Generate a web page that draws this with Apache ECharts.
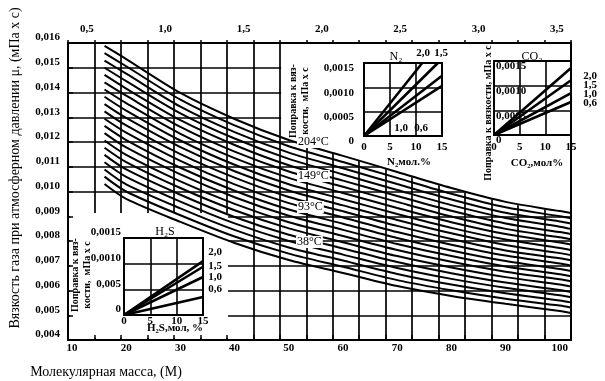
<!DOCTYPE html>
<html><head><meta charset="utf-8">
<script src="https://cdn.jsdelivr.net/npm/echarts@6/dist/echarts.min.js"></script>
<style>html,body{margin:0;padding:0;background:#fff}#c{width:605px;height:381px}</style>
</head><body><div id="c"></div>
<script>
// ---------- data ----------
const molarMass = [16, 20, 30, 40, 50, 60, 70, 80, 90, 100, 102];
// viscosity at 1 atm, mPa*s (top line = 204°C)
const visc01 = [0.01588,0.01535,0.01398,0.01293,0.01208,0.01144,0.01079,0.01014,0.00958,0.00921,0.00913];
const visc02 = [0.01559,0.01506,0.01371,0.01267,0.01183,0.01119,0.01055,0.00991,0.00936,0.00900,0.00892];
const visc03 = [0.01529,0.01476,0.01343,0.01240,0.01157,0.01094,0.01030,0.00968,0.00914,0.00879,0.00871];
const visc04 = [0.01500,0.01446,0.01316,0.01214,0.01132,0.01069,0.01006,0.00945,0.00893,0.00858,0.00849];
const visc05 = [0.01471,0.01416,0.01288,0.01188,0.01106,0.01044,0.00982,0.00922,0.00871,0.00836,0.00828];
const visc06 = [0.01441,0.01387,0.01261,0.01161,0.01081,0.01019,0.00958,0.00899,0.00849,0.00815,0.00807];
const visc07 = [0.01412,0.01357,0.01233,0.01135,0.01055,0.00994,0.00933,0.00876,0.00828,0.00794,0.00786];
const visc08 = [0.01383,0.01327,0.01206,0.01108,0.01029,0.00969,0.00909,0.00853,0.00806,0.00772,0.00764];
const visc09 = [0.01353,0.01297,0.01179,0.01082,0.01004,0.00944,0.00885,0.00831,0.00784,0.00751,0.00743];
const visc10 = [0.01324,0.01267,0.01151,0.01056,0.00978,0.00920,0.00861,0.00808,0.00762,0.00730,0.00722];
const visc11 = [0.01294,0.01238,0.01124,0.01029,0.00953,0.00895,0.00836,0.00785,0.00741,0.00709,0.00701];
const visc12 = [0.01265,0.01208,0.01096,0.01003,0.00927,0.00870,0.00812,0.00762,0.00719,0.00687,0.00679];
const visc13 = [0.01236,0.01178,0.01069,0.00977,0.00902,0.00845,0.00788,0.00739,0.00697,0.00666,0.00658];
const visc14 = [0.01206,0.01148,0.01041,0.00950,0.00876,0.00820,0.00764,0.00716,0.00676,0.00645,0.00637];
const visc15 = [0.01177,0.01119,0.01014,0.00924,0.00851,0.00795,0.00739,0.00693,0.00654,0.00624,0.00616];
const visc16 = [0.01148,0.01089,0.00987,0.00897,0.00825,0.00770,0.00715,0.00670,0.00632,0.00602,0.00594];
const visc17 = [0.01118,0.01059,0.00959,0.00871,0.00800,0.00745,0.00691,0.00647,0.00611,0.00581,0.00573];
const visc18 = [0.01089,0.01029,0.00932,0.00845,0.00774,0.00721,0.00667,0.00624,0.00589,0.00560,0.00552];
const visc19 = [0.01060,0.01000,0.00904,0.00818,0.00749,0.00696,0.00642,0.00601,0.00567,0.00539,0.00531];
const visc20 = [0.01030,0.00970,0.00877,0.00792,0.00723,0.00671,0.00618,0.00578,0.00546,0.00517,0.00509];
const viscLines = [visc01,visc02,visc03,visc04,visc05,visc06,visc07,visc08,visc09,visc10,
                   visc11,visc12,visc13,visc14,visc15,visc16,visc17,visc18,visc19,visc20];

const tempLabels = ['204°C', '149°C', '93°C', '38°C'];
const massTicks = [10, 20, 30, 40, 50, 60, 70, 80, 90, 100];
const gravityTicks = [0.5, 1.0, 1.5, 2.0, 2.5, 3.0, 3.5];

// inset corrections: end points of lines from origin, [mol %, correction mPa*s]
const insetGravity = ['2,0', '1,5', '1,0', '0,6'];
const n2End  = [[11.2, 0.0015], [14.2, 0.0015], [15, 0.00124], [15, 0.00103]];
const co2End = [[15, 0.00136], [15, 0.00111], [15, 0.00085], [15, 0.00067]];
const h2sEnd = [[15, 0.00105], [15, 0.00094], [15, 0.00074], [15, 0.00035]];
const insetYLabels = ['0', '0,0005', '0,0010', '0,0015'];
const h2sYLabels = ['0', '0,005', '0,0010', '0,0015'];

// ---------- layout ----------
const FONT = 'Liberation Serif';
const tickFont = {fontFamily: FONT, fontSize: 11, fontWeight: 'bold', color: '#000'};
const LAB_MIN = 9.26, LAB_MAX = 102.07;   // printed molar-mass scale
const GRID_MIN = 10, GRID_MAX = 105;      // ruled grid
const BLACK = '#000';

const chart = echarts.init(document.getElementById('c'), null, {renderer: 'canvas'});

function interp(xs, ys, x) {
  for (let i = 0; i < xs.length - 1; i++) {
    if (x >= xs[i] && x <= xs[i + 1]) {
      const t = (x - xs[i]) / (xs[i + 1] - xs[i]);
      return ys[i] + t * (ys[i + 1] - ys[i]);
    }
  }
  return ys[ys.length - 1];
}
// white mask above the top line (right part of chart)
const maskStart = LAB_MIN + (50 - GRID_MIN) / (GRID_MAX - GRID_MIN) * (LAB_MAX - LAB_MIN) + 0.25;
const maskData = [[maskStart, interp(molarMass, visc01, maskStart) - 0.00003]]
  .concat(molarMass.map((m, i) => [m, visc01[i] - 0.00003]).filter(p => p[0] > maskStart));

const series = [];
series.push({type: 'line', xAxisIndex: 0, yAxisIndex: 0, data: maskData, symbol: 'none', smooth: 0.3,
  lineStyle: {width: 0, opacity: 0}, areaStyle: {color: '#fff', opacity: 1, origin: 'end'}, z: 1, silent: true});
viscLines.forEach(arr => {
  series.push({type: 'line', xAxisIndex: 0, yAxisIndex: 0, symbol: 'none', smooth: 0.3, silent: true,
    data: molarMass.map((m, i) => [m, arr[i]]), lineStyle: {color: BLACK, width: 2}, z: 2});
});
function insetSeries(ends, xi, yi) {
  ends.forEach(e => series.push({type: 'line', xAxisIndex: xi, yAxisIndex: yi, symbol: 'none', silent: true,
    data: [[0, 0], e], lineStyle: {color: BLACK, width: 2.6}, z: 5}));
}
insetSeries(n2End, 5, 3);
insetSeries(co2End, 6, 4);
insetSeries(h2sEnd, 7, 5);

const insetGrid = (l, t, w, h) => ({left: l, top: t, width: w, height: h, show: true, backgroundColor: '#fff',
  borderColor: BLACK, borderWidth: 2, z: 3, outerBoundsMode: 'none', containLabel: false});
const insetX = (g, margin) => ({gridIndex: g, type: 'value', min: 0, max: 15, interval: 5, z: 4,
  axisLine: {show: false, onZero: false}, axisTick: {show: false},
  splitLine: {show: true, lineStyle: {color: BLACK, width: 1.6}},
  axisLabel: Object.assign({margin: margin}, tickFont)});
const insetY = (g, labels, extra) => ({gridIndex: g, type: 'value', min: 0, max: 0.0015, interval: 0.0005, z: 4,
  axisLine: {show: false, onZero: false}, axisTick: {show: false},
  splitLine: {show: true, lineStyle: {color: BLACK, width: 1.6}},
  axisLabel: Object.assign({formatter: (v, i) => labels[i]}, tickFont, extra)});

const txt = (text, x, y, opt) => Object.assign({type: 'text', x: x, y: y, z: 10, silent: true,
  style: Object.assign({text: text, fontFamily: FONT, fontSize: 11, fontWeight: 'bold', fill: BLACK,
    align: 'center', verticalAlign: 'middle'}, (opt && opt.style) || {})}, (opt && opt.el) || {});
const rotStyle = (fs) => ({el: {rotation: Math.PI / 2}, style: {fontSize: fs, fontWeight: 'bold', lineHeight: 12}});
const tempStyle = {style: {fontSize: 12, fontWeight: 'normal', align: 'left', backgroundColor: '#fff', padding: [0, 1]}};

const graphics = [
  {type: 'rect', shape: {x: 70, y: 213, width: 158, height: 125}, style: {fill: '#fff'}, z: 1, silent: true},
  txt('Вязкость газа при атмосферном давлении μ, (мПа х с)', 15, 168, {el: {rotation: Math.PI / 2}, style: {fontSize: 14, fontWeight: 'normal'}}),
  txt('Молекулярная масса, (М)', 106, 372, {style: {fontSize: 14, fontWeight: 'normal'}}),
  txt(tempLabels[0], 297, 142, tempStyle),
  txt(tempLabels[1], 297, 176, tempStyle),
  txt(tempLabels[2], 297, 207, tempStyle),
  txt(tempLabels[3], 296, 242, tempStyle),
  // N2 inset
  txt('N₂', 396, 57, {style: {fontWeight: 'normal', fontSize: 12}}),
  txt('N₂мол.%', 409, 162),
  txt('Поправка к вяз-\nкости,  мПа х с', 299, 101, rotStyle(10)),
  txt(insetGravity[0], 423, 53), txt(insetGravity[1], 441, 53),
  txt(insetGravity[2], 401, 128), txt(insetGravity[3], 421, 128),
  // CO2 inset
  txt('CO₂', 532, 57, {style: {fontWeight: 'normal', fontSize: 12}}),
  txt('CO₂,мол%', 537, 163),
  txt('Поправка к вязкости, мПа х с', 488, 113, rotStyle(10)),
  txt(insetGravity[0], 590, 76), txt(insetGravity[1], 590, 85),
  txt(insetGravity[2], 590, 94), txt(insetGravity[3], 590, 103),
  // H2S inset
  txt('H₂S', 165, 232, {style: {fontWeight: 'normal', fontSize: 12}}),
  txt('H₂S,мол, %', 175, 328),
  txt('Поправка к вяз-\nкости,  мПа х с', 81, 275, rotStyle(10)),
  txt(insetGravity[0], 215, 252), txt(insetGravity[1], 215, 266),
  txt(insetGravity[2], 215, 277), txt(insetGravity[3], 215, 289)
];

const option = {
  animation: false,
  backgroundColor: '#fff',
  grid: [
    {left: 68, top: 43, width: 503, height: 297, show: false, outerBoundsMode: 'none', containLabel: false},
    insetGrid(364, 63, 78, 73),
    insetGrid(494, 61, 77, 74),
    insetGrid(124, 238, 79, 77)
  ],
  xAxis: [
    {gridIndex: 0, type: 'value', position: 'bottom', min: LAB_MIN, max: LAB_MAX, z: 3,
      axisLine: {show: true, onZero: false, lineStyle: {color: BLACK, width: 2}}, axisTick: {show: false},
      splitLine: {show: false}, axisLabel: Object.assign({customValues: massTicks, margin: 3}, tickFont)},
    {gridIndex: 0, type: 'value', position: 'bottom', min: GRID_MIN, max: GRID_MAX, interval: 5, z: 0,
      axisLine: {show: false, onZero: false}, axisTick: {show: false}, axisLabel: {show: false},
      splitLine: {show: true, lineStyle: {color: BLACK, width: 1.7}}},
    {gridIndex: 0, type: 'value', position: 'bottom', min: GRID_MIN, max: GRID_MAX, interval: 5, z: 3,
      axisLine: {show: false, onZero: false}, axisTick: {show: true, inside: true, length: 5, lineStyle: {color: BLACK, width: 1.5}},
      axisLabel: {show: false}, splitLine: {show: false}},
    {gridIndex: 0, type: 'value', position: 'top', min: GRID_MIN, max: GRID_MAX, interval: 5, z: 3,
      axisLine: {show: true, onZero: false, lineStyle: {color: BLACK, width: 2}},
      axisTick: {show: true, inside: false, length: 3, lineStyle: {color: BLACK, width: 1.5}},
      axisLabel: {show: false}, splitLine: {show: false}},
    {gridIndex: 0, type: 'value', position: 'top', min: 0.38, max: 3.59, z: 3,
      axisLine: {show: false, onZero: false}, axisTick: {show: false}, splitLine: {show: false},
      axisLabel: Object.assign({customValues: gravityTicks, margin: 8, formatter: v => v.toFixed(1).replace('.', ',')}, tickFont)},
    insetX(1, 6),
    insetX(2, 7),
    insetX(3, 1)
  ],
  yAxis: [
    {gridIndex: 0, type: 'value', position: 'left', min: 0.004, max: 0.016, interval: 0.001, z: 0,
      axisLine: {show: false, onZero: false}, axisTick: {show: false},
      splitLine: {show: true, lineStyle: {color: BLACK, width: 1.7}},
      axisLabel: Object.assign({margin: 8, verticalAlign: 'bottom', formatter: v => v.toFixed(3).replace('.', ',')}, tickFont)},
    {gridIndex: 0, type: 'value', position: 'left', min: 0.004, max: 0.016, interval: 0.001, z: 3,
      axisLine: {show: true, onZero: false, lineStyle: {color: BLACK, width: 2}},
      axisTick: {show: true, inside: true, length: 5, lineStyle: {color: BLACK, width: 1.5}},
      axisLabel: {show: false}, splitLine: {show: false}},
    {gridIndex: 0, type: 'value', position: 'right', min: 0.004, max: 0.016, interval: 0.001, z: 3,
      axisLine: {show: true, onZero: false, lineStyle: {color: BLACK, width: 2}},
      axisTick: {show: false}, axisLabel: {show: false}, splitLine: {show: false}},
    insetY(1, insetYLabels, {margin: 10, verticalAlign: 'top'}),
    insetY(2, insetYLabels, {margin: 2, inside: true, verticalAlign: 'top'}),
    insetY(3, h2sYLabels, {margin: 3, verticalAlign: 'bottom'})
  ],
  graphic: {elements: graphics},
  series: series
};
chart.setOption(option);
</script>
</body></html>
